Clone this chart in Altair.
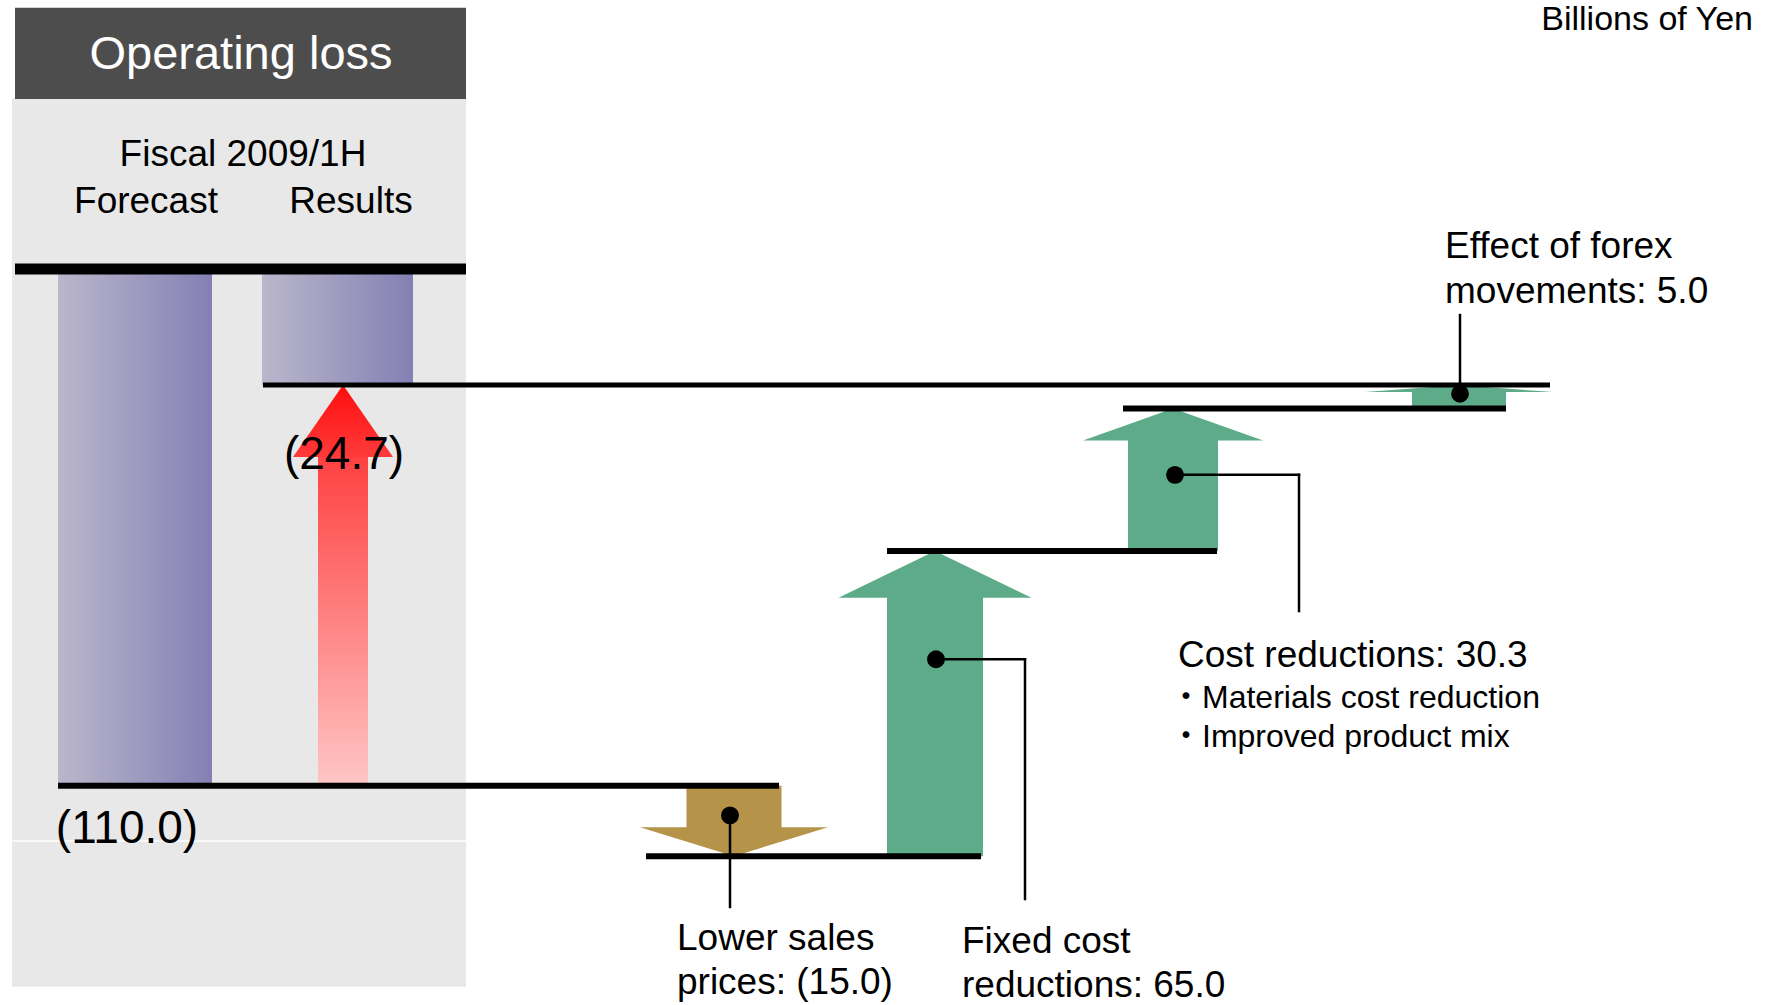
import altair as alt
import pandas as pd

# ------------------------------------------------------------------
# Data (billions of yen)
# ------------------------------------------------------------------
bar_names = ["Forecast", "Results"]
bar_values = [-110.0, -24.7]
bar_value_labels = ["(110.0)", "(24.7)"]

step_names = ["Lower sales prices", "Fixed cost reductions",
              "Cost reductions", "Effect of forex movements"]
step_values = [-15.0, 65.0, 30.3, 5.0]
step_label_lines = [
    ["Lower sales", "prices: (15.0)"],
    ["Fixed cost", "reductions: 65.0"],
    ["Cost reductions: 30.3"],
    ["Effect of forex", "movements: 5.0"],
]
cost_detail_lines = ["・Materials cost reduction", "・Improved product mix"]

title_text = "Operating loss"
period_text = "Fiscal 2009/1H"
unit_text = "Billions of Yen"

# ------------------------------------------------------------------
# Layout & style  (x: layout units across the canvas, y: billions of yen)
# ------------------------------------------------------------------
W, H = 1769, 1005
X_DOMAIN = [0, W]
Y_DOMAIN = [-156.66, 57.26]
FONT = "Liberation Sans, Noto Sans CJK JP, sans-serif"

panel_box = dict(x=12, x2=466, y=36.4, y2=-152.8, c="#e8e8e8")
header_box = dict(x=15, x2=466, y=55.6, y2=36.2, c="#4d4d4d")
panel_rule = dict(x=12, x2=466, y=-121.75)

bar_x_spans = [(58, 212), (262, 413)]

# arrows: index 0 = improvement arrow between forecast and results, 1..4 = steps
arrow_cx = [343, 734, 935, 1173, 1459]
arrow_shaft_hw = [25, 47.5, 48, 45, 47]
arrow_head_hw = [50, 94, 96.5, 90, 94]
arrow_head_len = [15.3, 6.2, 10.0, 6.8, 1.5]
step_colors = ["#b59449", "#5dab88", "#5dab88", "#5dab88"]

line_x_spans = [(15, 466), (58, 779), (646, 981), (887, 1217), (1123, 1506), (263, 1550)]
line_widths = [11, 6, 6, 6, 6, 5]

dot_t = [0.42, 0.645, 0.534, 0.63]
dot_x = [730, 936, 1175, 1460]
elbow_x = [None, 1025, 1299, None]
leader_end_y = [-135.8, -134.1, -72.8, -9.8]

step_label_x = [677, 962, 1178, 1445]
step_label_y = [-142.6, -143.25, -82.37, 4.68]
step_line_gap = [9.37, 9.37, 0.0, 9.58]
detail_x = 1170
detail_y = [-91.31, -99.62]

bar_name_x = [146, 351]
bar_name_y = 14.26
bar_label_x = [127, 344]
bar_label_y = [-119.2, -39.59]

# ------------------------------------------------------------------
# Derived tables
# ------------------------------------------------------------------
step_starts, step_ends = [], []
cur = bar_values[0]
for v in step_values:
    step_starts.append(cur)
    cur = round(cur + v, 1)
    step_ends.append(cur)

arrow_start = [bar_values[0]] + step_starts
arrow_end = [bar_values[1]] + step_ends

shaft_rows, head_rows = [], []
for i in range(5):
    s, e = arrow_start[i], arrow_end[i]
    d = 1 if e > s else -1
    base = e - d * arrow_head_len[i]
    color = "red" if i == 0 else step_colors[i - 1]
    shaft_rows.append(dict(id=i, x=arrow_cx[i] - arrow_shaft_hw[i], x2=arrow_cx[i] + arrow_shaft_hw[i],
                           y=s, y2=base + d * 0.25, c=color))
    cx, hw = arrow_cx[i], arrow_head_hw[i]
    for xx, top in [(cx - hw, base), (cx, e), (cx + hw, base)]:
        head_rows.append(dict(id=i, x=xx, y=base, y2=top, c=color))

shaft_df = pd.DataFrame(shaft_rows)
head_df = pd.DataFrame(head_rows)

level_values = [0.0, bar_values[0]] + step_ends
lines_df = pd.DataFrame([dict(y=level_values[i], x=line_x_spans[i][0], x2=line_x_spans[i][1], w=line_widths[i])
                         for i in range(len(level_values))])

bars_df = pd.DataFrame([dict(name=bar_names[i], x=bar_x_spans[i][0], x2=bar_x_spans[i][1], y=0.0, y2=bar_values[i])
                        for i in range(2)])

dots_rows, leader_rows = [], []
for i in range(4):
    vy = step_starts[i] + dot_t[i] * (step_ends[i] - step_starts[i])
    dots_rows.append(dict(x=dot_x[i], y=vy))
    if elbow_x[i] is None:
        leader_rows.append(dict(x=dot_x[i], x2=dot_x[i], y=vy, y2=leader_end_y[i]))
    else:
        leader_rows.append(dict(x=dot_x[i], x2=elbow_x[i], y=vy, y2=vy))
        leader_rows.append(dict(x=elbow_x[i], x2=elbow_x[i], y=vy, y2=leader_end_y[i]))
dots_df = pd.DataFrame(dots_rows)
leaders_df = pd.DataFrame(leader_rows)

center_text = [dict(t=title_text, x=241, y=45.55, s=47, c="white"),
               dict(t=period_text, x=243, y=24.27, s=37, c="black")]
for i in range(2):
    center_text.append(dict(t=bar_names[i], x=bar_name_x[i], y=bar_name_y, s=37, c="black"))
    center_text.append(dict(t=bar_value_labels[i], x=bar_label_x[i], y=bar_label_y[i], s=46, c="black"))
center_df = pd.DataFrame(center_text)

left_text = []
for i in range(4):
    for j, ln in enumerate(step_label_lines[i]):
        left_text.append(dict(t=ln, x=step_label_x[i], y=step_label_y[i] - j * step_line_gap[i], s=37, c="black"))
for j, ln in enumerate(cost_detail_lines):
    left_text.append(dict(t=ln, x=detail_x, y=detail_y[j], s=32, c="black"))
left_df = pd.DataFrame(left_text)

unit_df = pd.DataFrame([dict(t=unit_text, x=1753, y=50.9, s=34, c="black")])

bg_df = pd.DataFrame([panel_box, header_box])
prule_df = pd.DataFrame([panel_rule])


# ------------------------------------------------------------------
# Chart
# ------------------------------------------------------------------
def X(f):
    return alt.X(f"{f}:Q", scale=alt.Scale(domain=X_DOMAIN, nice=False, zero=False), axis=None)


def Y(f, stack=None):
    if stack is None:
        return alt.Y(f"{f}:Q", scale=alt.Scale(domain=Y_DOMAIN, nice=False, zero=False), axis=None)
    return alt.Y(f"{f}:Q", scale=alt.Scale(domain=Y_DOMAIN, nice=False, zero=False), axis=None, stack=stack)


bg = alt.Chart(bg_df).mark_rect().encode(
    x=X("x"), x2="x2", y=Y("y"), y2="y2", color=alt.Color("c:N", scale=None))

prule = alt.Chart(prule_df).mark_rule(color="white", strokeWidth=1.5).encode(x=X("x"), x2="x2", y=Y("y"))

bar_grad = alt.LinearGradient(
    gradient="linear",
    stops=[alt.GradientStop(color="#bab7cb", offset=0), alt.GradientStop(color="#8480b4", offset=1)],
    x1=0, x2=1, y1=0, y2=0)
bars = alt.Chart(bars_df).mark_rect(color=bar_grad).encode(x=X("x"), x2="x2", y=Y("y"), y2="y2")

red_shaft_grad = alt.LinearGradient(
    gradient="linear",
    stops=[alt.GradientStop(color="#ff4040", offset=0), alt.GradientStop(color="#ffc6c6", offset=1)],
    x1=0, x2=0, y1=0, y2=1)
red_head_grad = alt.LinearGradient(
    gradient="linear",
    stops=[alt.GradientStop(color="#ff0d0d", offset=0), alt.GradientStop(color="#ff3a3a", offset=1)],
    x1=0, x2=0, y1=0, y2=1)

red_shaft = alt.Chart(shaft_df[shaft_df.id == 0]).mark_rect(color=red_shaft_grad).encode(
    x=X("x"), x2="x2", y=Y("y"), y2="y2")
red_head = alt.Chart(head_df[head_df.id == 0]).mark_area(color=red_head_grad, orient="vertical").encode(
    x=X("x"), y=Y("y", stack=False), y2="y2")

step_shafts = alt.Chart(shaft_df[shaft_df.id > 0]).mark_rect().encode(
    x=X("x"), x2="x2", y=Y("y"), y2="y2", color=alt.Color("c:N", scale=None))
step_heads = alt.Chart(head_df[head_df.id > 0]).mark_area(orient="vertical").encode(
    x=X("x"), y=Y("y", stack=False), y2="y2", detail="id:N", color=alt.Color("c:N", scale=None))

levels = alt.Chart(lines_df).mark_rule(color="black", strokeCap="butt").encode(
    x=X("x"), x2="x2", y=Y("y"), strokeWidth=alt.StrokeWidth("w:Q", scale=None))

leaders = alt.Chart(leaders_df).mark_rule(color="black", strokeWidth=2.5, strokeCap="square").encode(
    x=X("x"), x2="x2", y=Y("y"), y2="y2")

dots = alt.Chart(dots_df).mark_circle(color="black", size=320, opacity=1).encode(x=X("x"), y=Y("y"))

txt_c = alt.Chart(center_df).mark_text(font=FONT, align="center", baseline="middle").encode(
    x=X("x"), y=Y("y"), text="t:N", size=alt.Size("s:Q", scale=None), color=alt.Color("c:N", scale=None))
txt_l = alt.Chart(left_df).mark_text(font=FONT, align="left", baseline="middle").encode(
    x=X("x"), y=Y("y"), text="t:N", size=alt.Size("s:Q", scale=None), color=alt.Color("c:N", scale=None))
txt_u = alt.Chart(unit_df).mark_text(font=FONT, align="right", baseline="alphabetic").encode(
    x=X("x"), y=Y("y"), text="t:N", size=alt.Size("s:Q", scale=None), color=alt.Color("c:N", scale=None))

chart = alt.layer(
    bg, prule, bars, red_shaft, red_head, step_shafts, step_heads,
    levels, leaders, dots, txt_c, txt_l, txt_u
).properties(
    width=W, height=H, padding=0,
    autosize=alt.AutoSizeParams(type="none"),
    background="white",
).configure_view(stroke=None)

chart.save("out.html", embed_options={"renderer": "svg", "actions": False})
